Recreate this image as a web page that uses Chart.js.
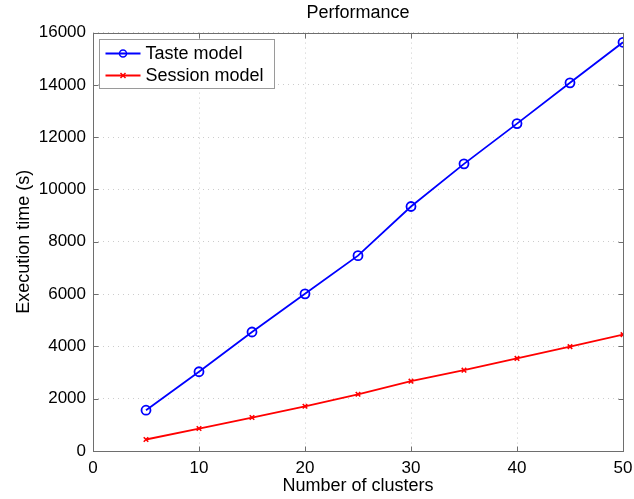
<!DOCTYPE html>
<html><head><meta charset="utf-8">
<script src="https://cdn.jsdelivr.net/npm/chart.js@4/dist/chart.umd.min.js"></script>
<style>html,body{margin:0;padding:0;background:#fff}#wrap{width:634px;height:499px}</style>
</head><body><div id="wrap"><canvas id="c" width="634" height="499"></canvas></div>
<script>
const clusters = [5, 10, 15, 20, 25, 30, 35, 40, 45, 50];
const tasteModel = [1560, 3030, 4550, 6010, 7470, 9350, 10980, 12520, 14080, 15630];
const sessionModel = [440, 860, 1280, 1710, 2170, 2670, 3090, 3540, 3990, 4450];
const xTicks = [0, 10, 20, 30, 40, 50];
const yTicks = [0, 2000, 4000, 6000, 8000, 10000, 12000, 14000, 16000];
const seriesNames = ['Taste model', 'Session model'];
const chartTitle = 'Performance';
const xTitle = 'Number of clusters';
const yTitle = 'Execution time (s)';

const FONT = '"Liberation Sans", Arial, Helvetica, sans-serif';
Chart.defaults.font.family = FONT;
Chart.defaults.color = '#000';

function drawMarker(ctx, style, x, y, r, color, lw) {
  ctx.save();
  ctx.strokeStyle = color; ctx.lineWidth = lw;
  ctx.beginPath();
  if (style === 'circle') {
    ctx.arc(x, y, r, 0, Math.PI * 2);
  } else {
    ctx.moveTo(x - r, y - r); ctx.lineTo(x + r, y + r);
    ctx.moveTo(x + r, y - r); ctx.lineTo(x - r, y + r);
  }
  ctx.stroke();
  ctx.restore();
}

const framePlugin = {
  id: 'frame',
  afterLayout(chart) {
    // centre the title over the plot area, as in the reference
    if (chart.titleBlock) {
      chart.titleBlock.left = chart.chartArea.left;
      chart.titleBlock.right = chart.chartArea.right;
      chart.titleBlock.width = chart.chartArea.right - chart.chartArea.left;
    }
  },
  afterDraw(chart) {
    const ctx = chart.ctx;
    const {left, right, top, bottom} = chart.chartArea;
    const xs = chart.scales.x, ys = chart.scales.y;
    ctx.save();
    ctx.strokeStyle = '#6e6e6e';
    ctx.lineWidth = 1;
    const L = Math.round(left) + 0.5, R = Math.round(right) + 0.5, T = Math.round(top) + 0.5, B = Math.round(bottom) + 0.5;
    ctx.strokeRect(L, T, R - L, B - T);
    const tl = 5;
    ctx.beginPath();
    xTicks.forEach(v => {
      const px = Math.round(xs.getPixelForValue(v)) + 0.5;
      ctx.moveTo(px, B); ctx.lineTo(px, B - tl);
      ctx.moveTo(px, T); ctx.lineTo(px, T + tl);
    });
    yTicks.forEach(v => {
      const py = Math.round(ys.getPixelForValue(v)) + 0.5;
      ctx.moveTo(L, py); ctx.lineTo(L + tl, py);
      ctx.moveTo(R, py); ctx.lineTo(R - tl, py);
    });
    ctx.stroke();

    // legend box inside plot
    const bx = L + 6, by = T + 6, bw = 175, bh = 49;
    ctx.fillStyle = '#fff';
    ctx.fillRect(bx, by, bw, bh);
    ctx.strokeStyle = '#9a9a9a';
    ctx.strokeRect(bx, by, bw, bh);
    chart.data.datasets.forEach((ds, i) => {
      const cy = by + 14 + i * 22;
      ctx.strokeStyle = ds.borderColor; ctx.lineWidth = 1.8;
      ctx.beginPath(); ctx.moveTo(bx + 6, cy); ctx.lineTo(bx + 41, cy); ctx.stroke();
      drawMarker(ctx, ds.pointStyle, bx + 23.5, cy, ds.pointStyle === 'circle' ? 3.5 : 2.5, ds.borderColor, 1.5);
      ctx.fillStyle = '#000';
      ctx.font = '18px ' + FONT;
      ctx.textBaseline = 'middle';
      ctx.textAlign = 'left';
      ctx.fillText(ds.label, bx + 46, cy + 1);
    });
    ctx.restore();
  }
};

new Chart(document.getElementById('c'), {
  type: 'line',
  data: {
    datasets: [
      {
        label: seriesNames[0],
        data: clusters.map((c, i) => ({x: c, y: tasteModel[i]})),
        borderColor: '#0000ff', backgroundColor: 'rgba(0,0,0,0)',
        borderWidth: 1.8, pointStyle: 'circle', pointRadius: 4.5,
        pointBorderWidth: 1.8, pointBackgroundColor: 'rgba(0,0,0,0)', pointBorderColor: '#0000ff',
        tension: 0, fill: false
      },
      {
        label: seriesNames[1],
        data: clusters.map((c, i) => ({x: c, y: sessionModel[i]})),
        borderColor: '#ff0000', backgroundColor: 'rgba(0,0,0,0)',
        borderWidth: 1.8, pointStyle: 'crossRot', pointRadius: 3.2,
        pointBorderWidth: 1.6, pointBorderColor: '#ff0000',
        tension: 0, fill: false
      }
    ]
  },
  options: {
    responsive: false,
    animation: false,
    layout: {padding: {left: 0, right: 11, top: 0, bottom: 0}},
    plugins: {
      legend: {display: false},
      tooltip: {enabled: false},
      title: {
        display: true, text: chartTitle, color: '#000',
        font: {size: 18, weight: 'normal'},
        padding: {top: 2, bottom: 9}
      }
    },
    scales: {
      x: {
        type: 'linear', min: 0, max: 50,
        afterBuildTicks: s => { s.ticks = xTicks.map(v => ({value: v})); },
        afterFit: s => { s.height = 48; s.paddingLeft = 0; s.paddingRight = 0; },
        ticks: {font: {size: 17}, color: '#000', padding: 7, maxRotation: 0, callback: v => String(v)},
        grid: {color: '#cccccc', lineWidth: 1, drawTicks: false},
        border: {display: false, dash: [1, 4]},
        title: {display: true, text: xTitle, color: '#000', font: {size: 18}, padding: {top: 0, bottom: 2}}
      },
      y: {
        type: 'linear', min: 0, max: 16000,
        afterBuildTicks: s => { s.ticks = yTicks.map(v => ({value: v})); },
        afterFit: s => { s.width = 93; s.paddingTop = 0; s.paddingBottom = 0; },
        ticks: {font: {size: 17}, color: '#000', padding: 7, callback: v => String(v)},
        grid: {color: '#cccccc', lineWidth: 1, drawTicks: false},
        border: {display: false, dash: [1, 4]},
        title: {display: true, text: yTitle, color: '#000', font: {size: 18}, padding: {top: 13, bottom: 0}}
      }
    }
  },
  plugins: [framePlugin]
});
</script>
</body></html>
